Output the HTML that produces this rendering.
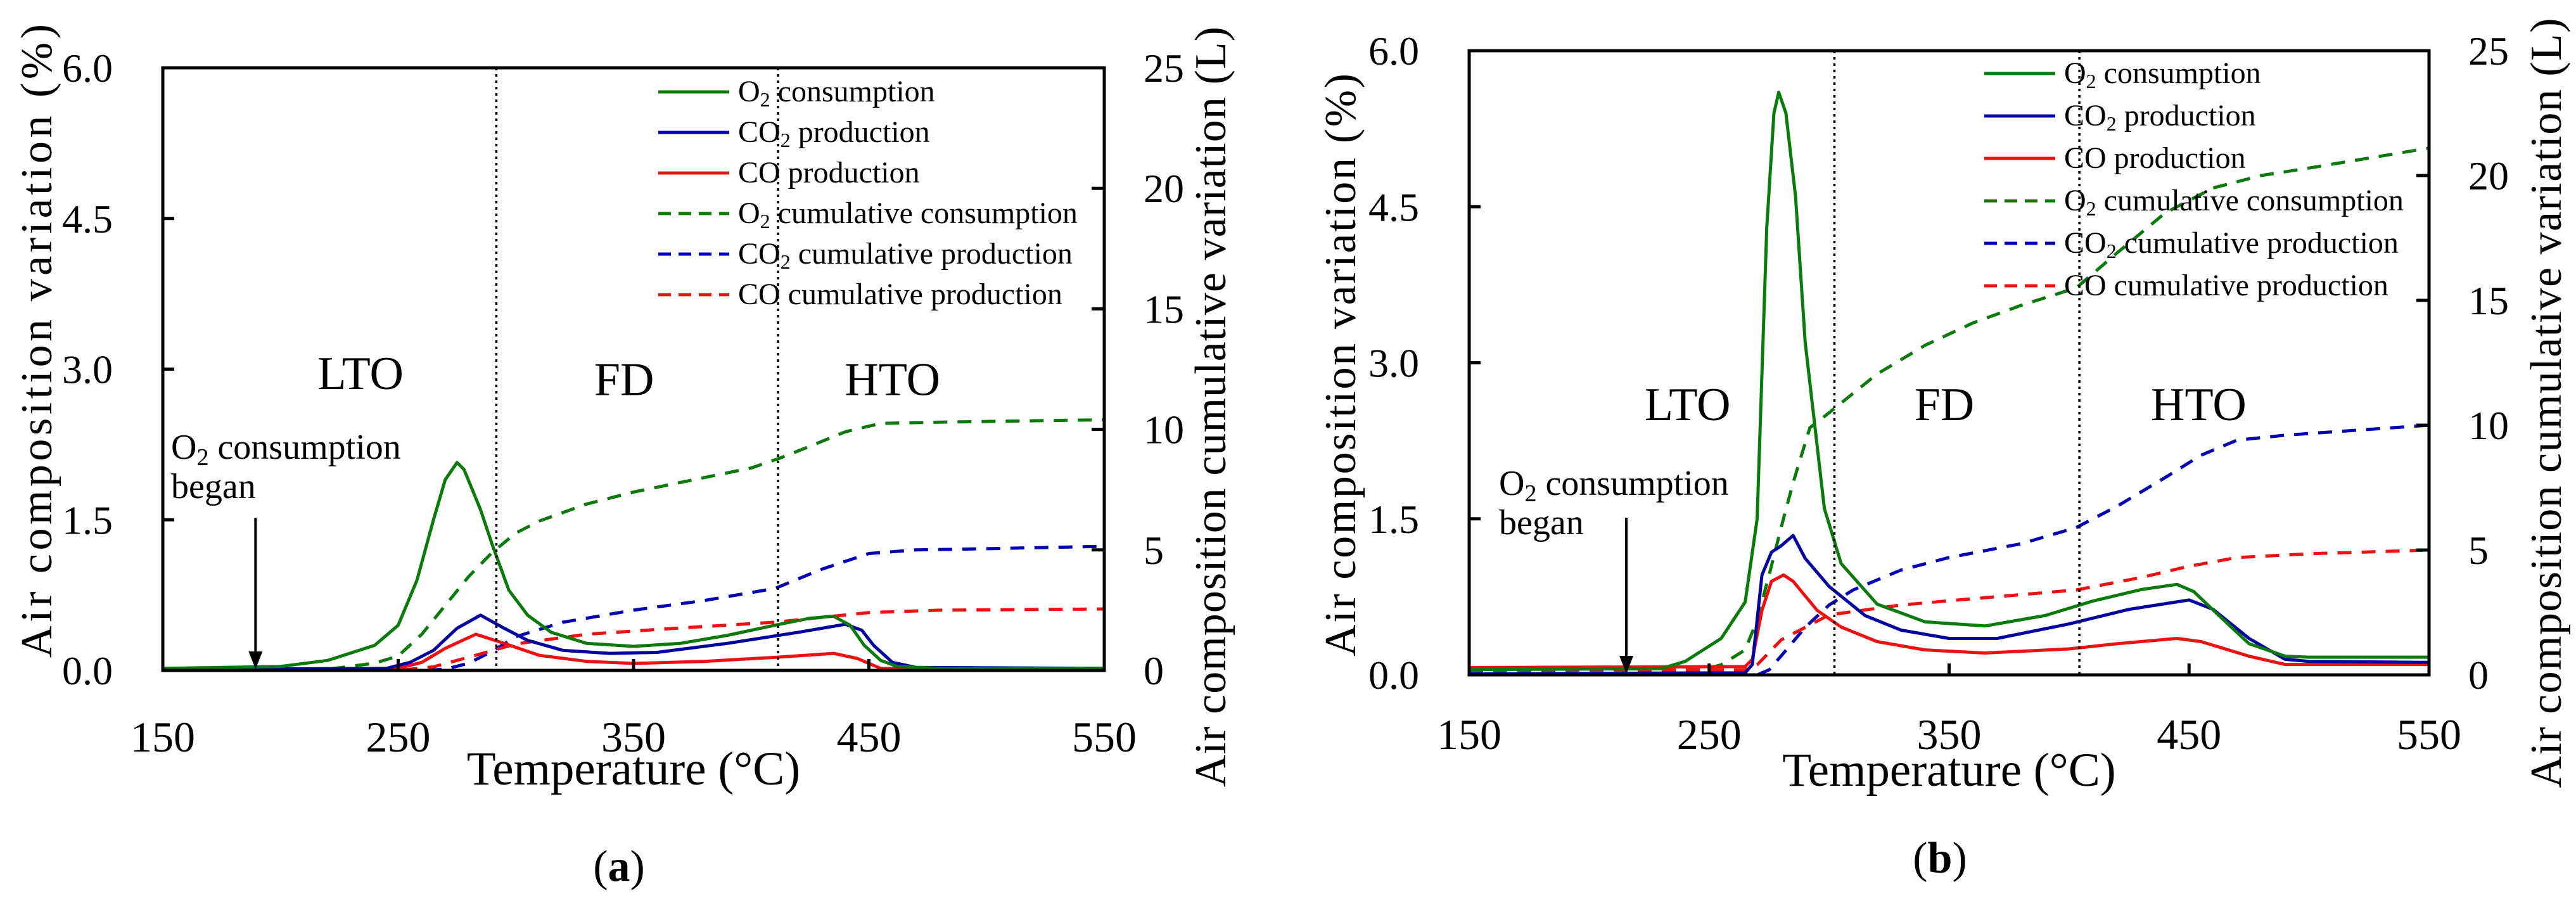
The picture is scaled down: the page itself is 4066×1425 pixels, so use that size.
<!DOCTYPE html>
<html><head><meta charset="utf-8"><style>
html,body{margin:0;padding:0;background:#fff;}
svg{display:block;font-family:"Liberation Serif",serif;}
</style></head><body>
<svg id="fig" width="4066" height="1425" viewBox="0 0 4066 1425" xmlns="http://www.w3.org/2000/svg"></svg>
<script>
// ---------- data: panel (a) ----------
const aO2T=[150,200,220,240,250,258,265,270,275,278,285,290,297,305,315,330,350,370,390,410,425,435,442,448,455,462,480,550];
const aO2V=[0.02,0.04,0.1,0.25,0.45,0.9,1.5,1.9,2.07,2.0,1.6,1.25,0.8,0.55,0.38,0.27,0.24,0.27,0.35,0.45,0.52,0.54,0.45,0.25,0.1,0.04,0.02,0.02];
const aCO2T=[150,245,255,265,275,285,295,305,320,340,360,390,420,440,447,452,460,470,550];
const aCO2V=[0.01,0.02,0.08,0.2,0.42,0.55,0.42,0.3,0.2,0.17,0.18,0.27,0.38,0.46,0.4,0.25,0.08,0.03,0.02];
const aCOT=[150,250,260,270,283,295,310,330,350,380,410,435,445,455,550];
const aCOV=[0,0.02,0.08,0.22,0.36,0.27,0.15,0.09,0.07,0.09,0.13,0.17,0.12,0.02,0];
const aO2cT=[150,220,240,250,260,270,280,290,300,310,330,350,380,400,412,425,440,455,480,550];
const aO2cV=[0,0.05,0.3,0.6,1.5,2.7,3.9,4.9,5.7,6.2,6.9,7.4,8.0,8.4,8.8,9.3,9.9,10.25,10.3,10.4];
const aCO2cT=[150,260,270,280,290,300,320,350,380,410,430,450,470,500,550];
const aCO2cV=[0,0,0.05,0.3,0.8,1.4,2.0,2.5,2.9,3.4,4.2,4.85,5.0,5.05,5.15];
const aCOcT=[150,250,265,280,300,330,360,410,430,450,480,550];
const aCOcV=[0,0,0.15,0.55,1.1,1.5,1.7,2.0,2.2,2.4,2.5,2.55];
const aZones=[291.7,411.4];
// ---------- data: panel (b) ----------
const bO2T=[150,230,240,255,265,270,274,277,279,282,286,290,298,305,320,340,365,390,410,430,445,452,462,475,490,500,550];
const bO2V=[0.05,0.06,0.13,0.35,0.7,1.5,4.3,5.4,5.6,5.4,4.6,3.2,1.6,1.07,0.68,0.51,0.47,0.57,0.71,0.82,0.87,0.8,0.58,0.3,0.18,0.17,0.17];
const bCO2T=[150,265,268,272,276,280,285,290,300,315,330,350,370,400,425,450,460,475,490,500,550];
const bCO2V=[0.01,0.02,0.1,0.96,1.18,1.24,1.34,1.12,0.85,0.57,0.43,0.35,0.35,0.49,0.63,0.72,0.63,0.35,0.15,0.13,0.12];
const bCOT=[150,265,268,272,276,281,285,295,305,320,340,365,400,420,445,455,475,490,550];
const bCOV=[0.07,0.08,0.15,0.62,0.9,0.96,0.9,0.62,0.46,0.32,0.24,0.21,0.25,0.3,0.35,0.32,0.18,0.1,0.1];
const bO2cT=[150,245,255,265,270,275,280,285,292,300,320,340,360,380,403,420,440,460,480,500,550];
const bO2cV=[0.1,0.15,0.4,1.0,2.2,4.0,5.9,7.7,9.9,10.5,12.05,13.2,14.1,14.8,15.5,16.9,18.5,19.5,20.0,20.3,21.1];
const bCO2cT=[150,270,275,280,290,300,310,330,350,380,403,420,440,455,470,490,520,550];
const bCO2cV=[0,0,0.2,0.76,1.9,2.8,3.4,4.2,4.7,5.25,5.9,6.75,7.9,8.8,9.4,9.6,9.8,10.0];
const bCOcT=[150,265,270,280,290,300,330,360,403,430,450,470,500,550];
const bCOcV=[0.2,0.2,0.4,1.4,1.9,2.4,2.8,3.05,3.4,3.9,4.35,4.7,4.85,5.0];
const bZones=[302.2,404.3];
// ---------- ticks ----------
const xTicks=[150,250,350,450,550];
const yLeftTicks=[0,1.5,3.0,4.5,6.0];
const yRightTicks=[0,5,10,15,20,25];
const legendLabels=[["O","2"," consumption"],["CO","2"," production"],["CO",""," production"],["O","2"," cumulative consumption"],["CO","2"," cumulative production"],["CO",""," cumulative production"]];

const NS="http://www.w3.org/2000/svg";
const svg=document.getElementById('fig');
function mk(tag,attrs,parent){const e=document.createElementNS(NS,tag);for(const k in attrs)e.setAttribute(k,attrs[k]);(parent||svg).appendChild(e);return e;}

function panel(p){
  const g=mk('g',{});
  
  
  const X=t=>p.L+(t-150)/400*(p.R-p.L);
  const Y=v=>p.B-v/6*(p.B-p.T);
  const Y2=v=>p.B-v/25*(p.B-p.T);
  const path=(ts,vs,yf)=>ts.map((t,i)=>(i?'L':'M')+X(t).toFixed(1)+' '+yf(vs[i]).toFixed(1)).join(' ');
  const series=[
    [p.O2cT,p.O2cV,Y2,'#0a7a0a',true,'o2-cumulative-line'],
    [p.CO2cT,p.CO2cV,Y2,'#0000b4',true,'co2-cumulative-line'],
    [p.COcT,p.COcV,Y2,'#ee1111',true,'co-cumulative-line'],
    [p.COT,p.COV,Y,'#ee1111',false,'co-production-line'],
    [p.CO2T,p.CO2V,Y,'#0000a0',false,'co2-production-line'],
    [p.O2T,p.O2V,Y,'#0a7a0a',false,'o2-consumption-line']];
  series.forEach(s=>{
    const e=mk('path',{d:path(s[0],s[1],s[2]),fill:'none',stroke:s[3],'stroke-width':5,'stroke-linejoin':'round','stroke-dasharray':s[4]?'22 16':'none'},g);
    
    
  });
  p.zones.forEach((z,i)=>{
    const e=mk('line',{x1:X(z),x2:X(z),y1:p.T,y2:p.B,stroke:'#000','stroke-width':3.5,'stroke-dasharray':'4 6'},g);
    
    
  });
  const fr=mk('rect',{x:p.L,y:p.T,width:p.R-p.L,height:p.B-p.T,fill:'none',stroke:'#000','stroke-width':5},g);
  
  
  xTicks.forEach(t=>{
    mk('line',{x1:X(t),x2:X(t),y1:p.B,y2:p.B-18,stroke:'#000','stroke-width':5},g);
    const e=mk('text',{x:X(t),y:p.xlabY,'font-size':68,'text-anchor':'middle'},g);e.textContent=t;
    
    
  });
  yLeftTicks.forEach(v=>{
    mk('line',{x1:p.L,x2:p.L+18,y1:Y(v),y2:Y(v),stroke:'#000','stroke-width':5},g);
    const e=mk('text',{x:p.L-79,y:Y(v)+22,'font-size':64,'text-anchor':'end'},g);e.textContent=v.toFixed(1);
    
    
  });
  yRightTicks.forEach(v=>{
    mk('line',{x1:p.R,x2:p.R-20,y1:Y2(v),y2:Y2(v),stroke:'#000','stroke-width':5},g);
    const e=mk('text',{x:p.R+62,y:Y2(v)+22,'font-size':64,'text-anchor':'start'},g);e.textContent=v;
    
    
  });
  let e=mk('text',{x:(p.L+p.R)/2,y:p.xtY,'font-size':75,'text-anchor':'middle'},g);e.textContent='Temperature (°C)';
  
  
  e=mk('text',{x:0,y:0,'font-size':70,'text-anchor':'middle',textLength:p.ylLen,lengthAdjust:'spacing',transform:`translate(${p.ylx+24},${p.ylCy}) rotate(-90)`},g);e.textContent='Air composition  variation  (%)';
  
  
  e=mk('text',{x:0,y:0,'font-size':70,'text-anchor':'middle',textLength:p.yrLen,lengthAdjust:'spacing',transform:`translate(${p.yrx+24},${p.yrCy}) rotate(-90)`},g);e.textContent='Air composition cumulative variation (L)';
  
  
  [['LTO',p.lto],['FD',p.fd],['HTO',p.hto]].forEach(z=>{
    const t=mk('text',{x:X(z[1][0]),y:Y(z[1][1])+25,'font-size':74,'text-anchor':'middle'},g);t.textContent=z[0];
    
    
  });
  const ax=X(p.arrowT);
  mk('line',{x1:ax,x2:ax,y1:p.arrowTop,y2:p.B-22,stroke:'#000','stroke-width':4},g);
  const ah=mk('polygon',{points:`${ax-11},${p.B-30} ${ax+11},${p.B-30} ${ax},${p.B-2}`,fill:'#000'},g);
  
  
  const an=mk('text',{x:p.annX,y:p.annY,'font-size':56},g);
  an.innerHTML='O<tspan font-size="38" dy="10">2</tspan><tspan dy="-10"> consumption</tspan>';
  
  
  const an2=mk('text',{x:p.annX,y:p.annY+62,'font-size':56},g);an2.textContent='began';
  
  
  const cols=['#0a7a0a','#0000b4','#ee1111','#0a7a0a','#0000b4','#ee1111'];
  legendLabels.forEach((lab,i)=>{
    const y=p.legY+i*p.legDy;
    const lg=mk('g',{},g);
    
    
    mk('line',{x1:p.legX,x2:p.legX+112,y1:y,y2:y,stroke:cols[i],'stroke-width':5,'stroke-dasharray':i>2?'20 12':'none'},lg);
    const t=mk('text',{x:p.legX+126,y:y+15,'font-size':48},lg);
    t.innerHTML=lab[0]+(lab[1]?'<tspan font-size="32" dy="8">'+lab[1]+'</tspan><tspan dy="-8">'+lab[2]+'</tspan>':lab[2]);
  });
  const cap=mk('text',{x:p.capX,y:p.capY,'font-size':70,'text-anchor':'middle'},g);
  cap.innerHTML='(<tspan font-weight="bold">'+p.id+'</tspan>)';
  
  
}
panel({id:'a',L:257,R:1743,T:107,B:1058,O2T:aO2T,O2V:aO2V,CO2T:aCO2T,CO2V:aCO2V,COT:aCOT,COV:aCOV,O2cT:aO2cT,O2cV:aO2cV,CO2cT:aCO2cT,CO2cV:aCO2cV,COcT:aCOcT,COcV:aCOcV,zones:aZones,
  lto:[234,2.96],fd:[346,2.9],hto:[460,2.9],arrowT:189.4,arrowTop:817,annX:270,annY:724,legX:1039,legY:145,legDy:64,
  ylx:57,ylCy:538,ylLen:1000,yrx:1910,yrCy:642,yrLen:1200,xlabY:1186,xtY:1238,capX:977,capY:1390});
panel({id:'b',L:2319,R:3834,T:80,B:1065,O2T:bO2T,O2V:bO2V,CO2T:bCO2T,CO2V:bCO2V,COT:bCOT,COV:bCOV,O2cT:bO2cT,O2cV:bO2cV,CO2cT:bCO2cT,CO2cV:bCO2cV,COcT:bCOcT,COcV:bCOcV,zones:bZones,
  lto:[241,2.6],fd:[348,2.6],hto:[454,2.6],arrowT:215.5,arrowTop:817,annX:2366,annY:781,legX:3132,legY:116,legDy:67,
  ylx:2115,ylCy:576,ylLen:920,yrx:4018,yrCy:636,yrLen:1215,xlabY:1182,xtY:1240,capX:3062,capY:1377});
</script>
</body></html>
